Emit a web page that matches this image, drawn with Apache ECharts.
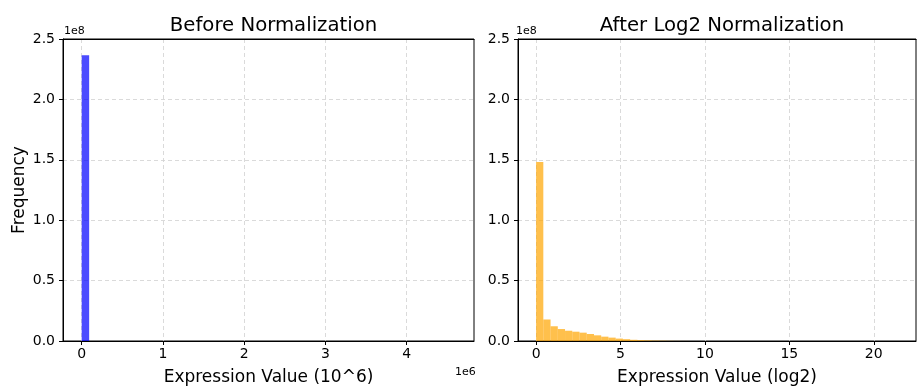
<!DOCTYPE html>
<html>
<head>
<meta charset="utf-8">
<script src="https://cdn.jsdelivr.net/npm/echarts@6/dist/echarts.min.js"></script>
<style>
html,body{margin:0;padding:0;background:#fff;}
#chart{width:917px;height:386px;}
</style>
</head>
<body>
<div id="chart"></div>
<script>
// ---- Data ----
const titles = ['Before Normalization', 'After Log2 Normalization'];
const xNames = ['Expression Value (10^6)', 'Expression Value (log2)'];
const yName = 'Frequency';

// Left histogram: 50 bins over raw expression range
const rawBinMin = 0;
const rawBinMax = 4.6e6;
const rawCounts = [236500000].concat(new Array(49).fill(0));
const rawTicks = [0, 1e6, 2e6, 3e6, 4e6];

// Right histogram: 50 bins over log2 range
const logBinMin = 0;
const logBinMax = 21.43;
const logCounts = [
  148200000, 17800000, 12200000, 9900000, 8500000, 7700000, 6900000, 5800000, 4700000, 3600000,
  2800000, 2000000, 1500000, 1000000, 700000, 500000, 350000, 250000, 150000, 80000,
  40000, 20000, 10000, 6000, 3000, 1500, 800, 400, 200, 100,
  60, 30, 20, 10, 6, 4, 3, 2, 1, 1,
  1, 0, 0, 0, 0, 0, 0, 0, 0, 1
];
const logTicks = [0, 5, 10, 15, 20];

// ---- Build ----
function bins(min, max, counts) {
  const w = (max - min) / counts.length;
  return counts.map((c, i) => [min + i * w, min + (i + 1) * w, c]);
}

const FONT = 'DejaVu Sans';
const gridLine = {show: true, lineStyle: {color: '#d0d0d0', type: [4, 3], width: 0.8}};

function makeRender(color) {
  return function (params, api) {
    const p0 = api.coord([api.value(0), api.value(2)]);
    const p1 = api.coord([api.value(1), 0]);
    return {
      type: 'rect',
      shape: {x: p0[0], y: p0[1], width: p1[0] - p0[0], height: p1[1] - p0[1]},
      style: {fill: color}
    };
  };
}

const grids = [
  {left: 63, top: 39, width: 411, height: 302, show: true, borderColor: '#000', borderWidth: 1,
    backgroundColor: 'transparent', containLabel: false, outerBoundsMode: 'none'},
  {left: 518, top: 39, width: 398, height: 302, show: true, borderColor: '#000', borderWidth: 1,
    backgroundColor: 'transparent', containLabel: false, outerBoundsMode: 'none'}
];

function xAxis(idx, min, max, ticks, fmt, name) {
  return {
    type: 'value', gridIndex: idx, min: min, max: max,
    name: name, nameLocation: 'middle', nameGap: 28,
    nameTextStyle: {fontFamily: FONT, fontSize: 17, color: '#000'},
    axisLine: {show: true, onZero: false, lineStyle: {color: '#000', width: 1}},
    axisTick: {show: true, length: 4, lineStyle: {color: '#000'}, customValues: ticks},
    axisLabel: {fontFamily: FONT, fontSize: 14, color: '#000', margin: 6, customValues: ticks, formatter: fmt},
    splitLine: gridLine
  };
}

// top spine drawn as a bare axis line so it stays solid above the grid lines
function topSpine(idx, min, max) {
  return {
    type: 'value', gridIndex: idx, position: 'top', min: min, max: max,
    axisLine: {show: true, onZero: false, lineStyle: {color: '#000', width: 1}},
    axisTick: {show: false}, axisLabel: {show: false}, splitLine: {show: false}
  };
}

function yAxis(idx, name) {
  return {
    type: 'value', gridIndex: idx, min: 0, max: 2.5e8, interval: 0.5e8,
    name: name, nameLocation: 'middle', nameGap: 35,
    nameTextStyle: {fontFamily: FONT, fontSize: 17, color: '#000'},
    axisLine: {show: true, onZero: false, lineStyle: {color: '#000', width: 1}},
    axisTick: {show: true, length: 4, lineStyle: {color: '#000'}},
    axisLabel: {fontFamily: FONT, fontSize: 14, color: '#000', margin: 8,
      formatter: v => (v / 1e8).toFixed(1)},
    splitLine: gridLine
  };
}

const rawSpan = rawBinMax - rawBinMin;
const logSpan = logBinMax - logBinMin;
const rawX = [rawBinMin - rawSpan * 0.05, rawBinMax + rawSpan * 0.05];
const logX = [logBinMin - logSpan * 0.05, logBinMax + logSpan * 0.05];

const option = {
  animation: false,
  backgroundColor: '#fff',
  title: [
    {text: titles[0], left: 268.5, top: 11, textAlign: 'center',
      textStyle: {fontFamily: FONT, fontSize: 19.7, fontWeight: 'normal', color: '#000'}},
    {text: titles[1], left: 717, top: 11, textAlign: 'center',
      textStyle: {fontFamily: FONT, fontSize: 19.7, fontWeight: 'normal', color: '#000'}}
  ],
  grid: grids,
  xAxis: [
    xAxis(0, rawX[0], rawX[1], rawTicks, v => String(Math.round(v / 1e6)), xNames[0]),
    xAxis(1, logX[0], logX[1], logTicks, v => String(v), xNames[1]),
    topSpine(0, rawX[0], rawX[1]),
    topSpine(1, logX[0], logX[1])
  ],
  yAxis: [yAxis(0, yName), yAxis(1, '')],
  graphic: [
    {type: 'text', left: 64, top: 26, style: {text: '1e8', font: '11px "DejaVu Sans"', fill: '#000'}},
    {type: 'text', left: 516, top: 26, style: {text: '1e8', font: '11px "DejaVu Sans"', fill: '#000'}},
    {type: 'text', left: 455, top: 367, style: {text: '1e6', font: '11px "DejaVu Sans"', fill: '#000'}}
  ],
  series: [
    {type: 'custom', xAxisIndex: 0, yAxisIndex: 0, data: bins(rawBinMin, rawBinMax, rawCounts),
      encode: {x: [0, 1], y: 2}, renderItem: makeRender('rgba(0,0,255,0.7)'), clip: true},
    {type: 'custom', xAxisIndex: 1, yAxisIndex: 1, data: bins(logBinMin, logBinMax, logCounts),
      encode: {x: [0, 1], y: 2}, renderItem: makeRender('rgba(255,165,0,0.7)'), clip: true}
  ]
};

const chart = echarts.init(document.getElementById('chart'), null, {renderer: 'canvas'});
chart.setOption(option);
</script>
</body>
</html>
